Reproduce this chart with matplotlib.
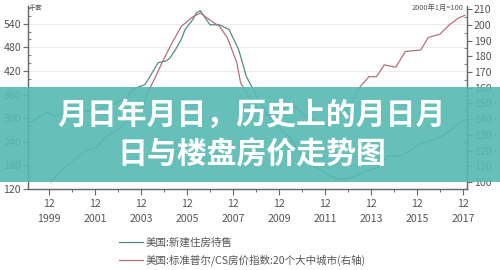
import numpy as np
import pandas as pd
import matplotlib
matplotlib.use('Agg')
import matplotlib.pyplot as plt
from matplotlib.patches import Rectangle
from matplotlib.ticker import MultipleLocator, FixedLocator

plt.rcParams['font.family'] = ['Noto Sans CJK SC', 'DejaVu Sans']

# 美国:新建住房待售 (千套, 左轴)
home_months = ['1999-01', '1999-05', '1999-11', '2000-03', '2000-07', '2000-12',
               '2001-04', '2001-11', '2002-06', '2003-01', '2003-05', '2003-07',
               '2003-11', '2004-02', '2004-04', '2004-07', '2004-09', '2005-01',
               '2005-03', '2005-06', '2005-09', '2005-11', '2006-03', '2006-05',
               '2006-07', '2006-12', '2007-05', '2007-10', '2008-03', '2008-07',
               '2009-01', '2009-05', '2010-01', '2010-06', '2010-11', '2011-03',
               '2011-09', '2012-02', '2012-07', '2012-12', '2013-05', '2013-11',
               '2014-04', '2014-09', '2015-03', '2015-08', '2016-01', '2016-07',
               '2016-12', '2017-04', '2017-09', '2018-01']
home_values = [285, 298, 315, 305, 312, 315,
               320, 317, 330, 343, 350, 370,
               380, 385, 400, 425, 441, 445,
               452, 474, 500, 525, 550, 568,
               573, 537, 537, 525, 474, 406,
               350, 315, 270, 250, 210, 188,
               170, 155, 145, 146, 155, 168,
               175, 205, 203, 215, 234, 243,
               250, 264, 283, 297]

# 美国:标准普尔/CS房价指数:20个大中城市 (2000年1月=100, 右轴)
cs_months = ['2000-01', '2000-07', '2001-01', '2001-07', '2002-01', '2002-06',
             '2003-01', '2003-06', '2004-01', '2004-04', '2004-08', '2004-11',
             '2005-04', '2005-09', '2006-03', '2006-07', '2006-12', '2007-05',
             '2007-09', '2008-02', '2008-04', '2008-08', '2009-04', '2010-01',
             '2010-06', '2011-01', '2011-06', '2012-02', '2012-07', '2013-01',
             '2013-06', '2013-11', '2014-03', '2014-07', '2015-01', '2015-06',
             '2016-02', '2016-06', '2016-12', '2017-05', '2017-10', '2018-01']
cs_values = [100, 108, 114, 120, 122, 129,
             134, 140, 148, 158, 168, 176,
             188, 199, 205, 207.5, 203, 199,
             192, 176, 163, 155, 142, 144,
             150, 143, 140, 135, 142, 148,
             160, 167, 167, 174.5, 173, 183,
             184, 192, 194, 200, 204.5, 206]

tick_years = list(range(1999, 2018, 2))
minor_years = list(range(2000, 2017, 2))
left_ticks = list(range(120, 541, 60))
right_ticks = list(range(100, 211, 10))

title_lines = ['月日年月日，历史上的月日月', '日与楼盘房价走势图']
legend_labels = ['美国:新建住房待售', '美国:标准普尔/CS房价指数:20个大中城市(右轴)']

home_color = '#4f8c88'
cs_color = '#b4707a'
axis_color = '#6a6a6a'
text_color = '#555555'

fig = plt.figure(figsize=(5, 2.7), dpi=100)
ax = fig.add_axes([0.056, 0.30, 0.878, 0.678])
ax2 = ax.twinx()

l1, = ax.plot(pd.to_datetime(home_months), home_values, color=home_color, lw=0.9)
l2, = ax2.plot(pd.to_datetime(cs_months), cs_values, color=cs_color, lw=0.9)

ax.set_xlim(pd.Timestamp('1999-01-01'), pd.Timestamp('2018-02-05'))
ax.set_ylim(120, 585)
ax2.set_ylim(95.5, 212)

ax.set_yticks(left_ticks)
ax.yaxis.set_minor_locator(MultipleLocator(20))
ax2.set_yticks(right_ticks)
ax2.yaxis.set_minor_locator(MultipleLocator(5))

ax.set_xticks(pd.to_datetime(['%d-12-01' % y for y in tick_years]))
ax.set_xticklabels(['12\n%d' % y for y in tick_years], linespacing=1.6)
ax.xaxis.set_minor_locator(FixedLocator(
    matplotlib.dates.date2num(pd.to_datetime(['%d-12-01' % y for y in minor_years]))))

ax.grid(axis='y', color='#e8e8e8', lw=0.6)
ax.set_axisbelow(True)

for a in (ax, ax2):
    a.spines['top'].set_visible(False)
    for s in ('left', 'right', 'bottom'):
        a.spines[s].set_color(axis_color)
        a.spines[s].set_linewidth(0.9)
    a.tick_params(axis='both', which='major', colors=axis_color, labelcolor=text_color,
                  labelsize=7.6, length=3.5, width=0.8, pad=1.5)
    a.tick_params(axis='y', which='minor', direction='in', length=2, width=0.6,
                  colors=axis_color)
ax.tick_params(axis='x', which='major', length=4, pad=3)
ax.tick_params(axis='x', which='minor', length=2.5, width=0.7, colors=axis_color)

fig.text(0.058, 0.985, '千套', fontsize=5, color=text_color, ha='left', va='top')
fig.text(0.928, 0.985, '2000年1月=100', fontsize=5.3, color=text_color, ha='right', va='top')

fig.legend([l1, l2], legend_labels, loc='upper left', bbox_to_anchor=(0.237, 0.12),
           frameon=False, fontsize=7.6, handlelength=2.3, handletextpad=0.25,
           labelspacing=0.6, borderpad=0, borderaxespad=0, labelcolor=text_color)

band = Rectangle((0, 1 - 182 / 270), 1, 95 / 270, transform=fig.transFigure,
                 facecolor='#55bab2', alpha=0.9, edgecolor='none', zorder=5)
fig.add_artist(band)
fig.text(0.504, 1 - 115 / 270, title_lines[0], fontsize=21.5, color='white',
         weight='heavy', ha='center', va='center', zorder=6)
fig.text(0.504, 1 - 155 / 270, title_lines[1], fontsize=21.5, color='white',
         weight='heavy', ha='center', va='center', zorder=6)

fig.savefig('out.png', dpi=100)
